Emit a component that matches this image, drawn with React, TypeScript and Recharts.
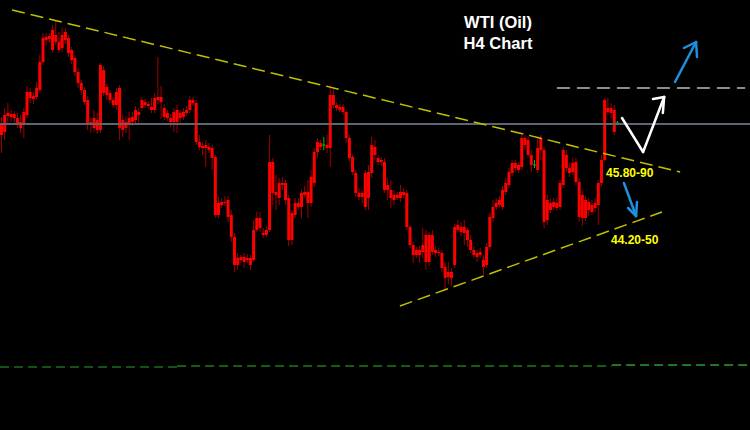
import React from "react";
import { ComposedChart, Bar, XAxis, YAxis, ReferenceLine } from "recharts";

// candle values (level = height above the bottom edge)
const opens = [
  295, 298, 317, 316, 316, 312, 302, 305, 315, 338, 331, 333, 340, 368, 390, 391, 400, 395, 380, 382, 398, 392, 380, 372, 358, 347, 340, 330, 308, 312, 300, 300, 360, 343, 337, 325, 325, 342,
  300, 308, 305, 308, 310, 315, 322, 328, 326, 320, 320, 333, 333, 322, 317, 308, 308, 320, 312, 313, 317, 320, 330, 327, 288, 284, 285, 283, 282, 273, 215, 228, 228, 230, 215, 193, 165, 173,
  173, 172, 165, 170, 200, 212, 195, 195, 200, 268, 235, 232, 247, 247, 232, 190, 215, 223, 223, 238, 227, 227, 247, 278, 287, 285, 282, 282, 335, 325, 320, 323, 318, 292, 273, 257, 237, 233, 223,
  232, 257, 283, 272, 270, 268, 245, 240, 230, 232, 232, 238, 237, 203, 185, 175, 175, 178, 195, 168, 195, 180, 178, 177, 163, 153, 152, 165, 205, 198, 203, 200, 190, 180, 173, 178, 163, 165,
  183, 212, 223, 225, 223, 238, 245, 257, 267, 260, 263, 292, 290, 275, 265, 260, 292, 280, 210, 227, 223, 222, 223, 245, 275, 262, 258, 268, 248, 212, 230, 228, 218, 222, 225, 247, 270, 322, 322, 320, 307,
];
const closes = [
  305, 315, 314, 313, 312, 305, 308, 318, 338, 332, 334, 342, 368, 392, 393, 394, 380, 388, 388, 395, 390, 377, 370, 358, 347, 340, 328, 305, 305, 302, 310, 365, 337, 335, 330, 330, 338, 302,
  310, 302, 312, 313, 320, 318, 330, 325, 324, 323, 332, 330, 328, 313, 312, 312, 318, 308, 317, 318, 320, 330, 327, 288, 283, 282, 282, 280, 272, 215, 227, 225, 227, 213, 193, 165, 172, 170,
  168, 170, 172, 200, 212, 202, 197, 200, 268, 237, 238, 247, 245, 230, 190, 217, 227, 227, 237, 235, 238, 253, 278, 288, 283, 285, 285, 335, 325, 322, 323, 318, 292, 272, 258, 237, 233, 237, 257,
  258, 285, 275, 268, 268, 240, 240, 232, 235, 235, 238, 235, 203, 185, 175, 180, 180, 185, 168, 195, 178, 177, 177, 162, 152, 158, 158, 203, 200, 203, 197, 190, 180, 175, 177, 175, 170, 183,
  213, 223, 227, 230, 240, 247, 258, 267, 262, 265, 292, 285, 275, 265, 265, 282, 280, 208, 230, 220, 228, 227, 247, 280, 262, 257, 267, 248, 213, 235, 212, 220, 225, 227, 247, 270, 330, 318, 317, 298, 307,
];
const highs = [
  313, 322, 327, 320, 319, 317, 315, 322, 344, 342, 338, 348, 375, 397, 397, 397, 405, 410, 398, 402, 402, 395, 383, 375, 362, 350, 343, 334, 312, 320, 317, 367, 364, 346, 340, 333, 342, 345,
  315, 314, 318, 318, 324, 322, 333, 331, 329, 332, 337, 373, 344, 326, 320, 316, 322, 325, 320, 322, 324, 334, 333, 330, 295, 288, 290, 287, 285, 275, 233, 232, 234, 234, 220, 197, 177, 175,
  177, 176, 175, 210, 218, 218, 202, 204, 295, 272, 255, 252, 253, 250, 235, 220, 232, 232, 240, 244, 250, 260, 282, 292, 290, 293, 295, 345, 342, 328, 326, 326, 320, 295, 275, 260, 242, 240, 260,
  265, 293, 290, 275, 273, 272, 252, 250, 240, 238, 245, 242, 240, 205, 188, 183, 184, 202, 200, 198, 200, 184, 182, 180, 168, 168, 162, 206, 210, 208, 210, 202, 195, 184, 180, 182, 175, 187,
  217, 230, 232, 234, 244, 252, 262, 270, 270, 268, 295, 295, 294, 280, 270, 293, 295, 283, 235, 232, 232, 232, 250, 283, 280, 267, 272, 272, 252, 240, 234, 232, 230, 232, 250, 275, 332, 332, 327, 325, 309,
];
const lows = [
  277, 290, 305, 308, 305, 302, 297, 292, 312, 327, 326, 330, 337, 365, 385, 387, 377, 385, 377, 378, 386, 373, 366, 354, 342, 335, 325, 300, 297, 298, 296, 297, 334, 330, 327, 322, 320, 290,
  293, 297, 290, 304, 307, 305, 319, 322, 321, 317, 317, 326, 311, 310, 309, 303, 298, 297, 307, 310, 314, 317, 324, 285, 280, 275, 263, 277, 260, 212, 212, 222, 224, 208, 188, 158, 160, 167,
  162, 167, 160, 168, 198, 198, 192, 193, 198, 225, 220, 225, 240, 225, 184, 185, 212, 220, 212, 232, 212, 223, 243, 272, 280, 280, 277, 263, 322, 319, 318, 315, 287, 268, 255, 233, 230, 227, 220,
  220, 252, 270, 265, 264, 237, 230, 222, 225, 230, 228, 232, 200, 182, 167, 172, 167, 172, 160, 164, 175, 173, 174, 158, 140, 146, 144, 162, 198, 194, 185, 183, 177, 172, 168, 172, 155, 162,
  180, 208, 220, 222, 220, 235, 242, 254, 258, 257, 260, 280, 272, 258, 262, 257, 270, 202, 205, 217, 220, 219, 220, 242, 258, 253, 255, 245, 208, 204, 209, 214, 215, 218, 205, 244, 268, 315, 312, 295, 305,
];

// annotation lines in the same units (x = candle index, y = level)
const upperTrend = [{ x: 3.3, y: 420 }, { x: 212.6, y: 258 }];
const lowerTrend = [{ x: 124.8, y: 124 }, { x: 206.9, y: 218 }];
const resistance = [{ x: 174, y: 342 }, { x: 233, y: 342 }];
const pivotLevel = 306;
const baseLine = [
  { from: -0.5, to: 55, y: 63, color: "#1c6b1c" },
  { from: 55, to: 191.3, y: 64, color: "#1f7a1f" },
  { from: 191.3, to: 234.5, y: 65, color: "#2e9c2e" },
];
const whiteArrow = [
  [{ x: 194.4, y: 312 }, { x: 201, y: 278 }, { x: 207.6, y: 333 }],
  [{ x: 204.1, y: 331 }, { x: 207.6, y: 333 }, { x: 207.2, y: 317 }],
];
const blueArrows = [
  [{ x: 211, y: 348 }, { x: 217.6, y: 388 }],
  [{ x: 213.8, y: 382 }, { x: 217.6, y: 388 }, { x: 217.9, y: 373 }],
  [{ x: 195, y: 247 }, { x: 198.8, y: 214 }],
  [{ x: 196.3, y: 222 }, { x: 198.8, y: 214 }, { x: 199.1, y: 228 }],
];

const data = opens.map((o, i) => ({
  i,
  o,
  c: closes[i],
  h: highs[i],
  l: lows[i],
  range: [lows[i], highs[i]],
}));

const Candle = (props: any) => {
  const { x, y, width, height, payload } = props;
  const cx = x + width / 2;
  const top = Math.min(y, y + height);
  const h = Math.abs(height);
  const span = payload.h - payload.l;
  const k = span > 0 ? h / span : 0;
  const yOf = (v: number) => top + (payload.h - v) * k;
  const bTop = yOf(Math.max(payload.o, payload.c));
  const bBot = yOf(Math.min(payload.o, payload.c));
  if (payload.o === payload.c) {
    return (
      <g>
        <line x1={cx} x2={cx} y1={top} y2={top + h} stroke="#00c000" strokeWidth={1} />
        <line x1={cx - 1.5} x2={cx + 1.5} y1={bTop} y2={bTop} stroke="#00c000" strokeWidth={1} />
      </g>
    );
  }
  return (
    <g>
      <line x1={cx} x2={cx} y1={top} y2={top + h} stroke="#a00000" strokeWidth={1} />
      <rect x={cx - 1.5} y={bTop} width={3} height={Math.max(1, bBot - bTop)} fill="#ff0000" />
    </g>
  );
};

const polySegments = (pts: { x: number; y: number }[][]) =>
  pts.flatMap((line) => line.slice(1).map((p, j) => [line[j], p]));

export default function App() {
  return (
    <div style={{ position: "absolute", left: 0, top: 0, width: 750, height: 430, background: "#000", overflow: "hidden" }}>
      <ComposedChart width={750} height={430} data={data} margin={{ top: 0, right: 0, bottom: 0, left: 0 }}>
        <XAxis hide type="number" dataKey="i" domain={[-0.5, 234.5]} allowDataOverflow />
        <YAxis hide type="number" domain={[0, 430]} allowDataOverflow />
        <ReferenceLine y={pivotLevel} stroke="#5d6572" strokeWidth={2} />
        {baseLine.map((b, n) => (
          <ReferenceLine
            key={`g${n}`}
            segment={[{ x: b.from, y: b.y }, { x: b.to, y: b.y }]}
            stroke={b.color}
            strokeWidth={1.5}
            strokeDasharray="9 5"
            ifOverflow="visible"
          />
        ))}
        <Bar dataKey="range" barSize={3} shape={Candle} isAnimationActive={false} />
        <ReferenceLine segment={upperTrend} stroke="#c0c000" strokeWidth={1.5} strokeDasharray="13 6" ifOverflow="visible" />
        <ReferenceLine segment={lowerTrend} stroke="#c0c000" strokeWidth={1.5} strokeDasharray="13 6" ifOverflow="visible" />
        <ReferenceLine segment={resistance} stroke="#8c8c8c" strokeWidth={2} strokeDasharray="13 7" ifOverflow="visible" />
        {polySegments(whiteArrow).map((s, n) => (
          <ReferenceLine key={`w${n}`} segment={s} stroke="#ffffff" strokeWidth={2.5} strokeLinecap="round" ifOverflow="visible" />
        ))}
        {polySegments(blueArrows).map((s, n) => (
          <ReferenceLine key={`b${n}`} segment={s} stroke="#1e90e0" strokeWidth={2.5} strokeLinecap="round" ifOverflow="visible" />
        ))}
      </ComposedChart>
      <div
        style={{
          position: "absolute",
          left: 438,
          top: 12,
          width: 120,
          textAlign: "center",
          color: "#fff",
          fontFamily: "'Liberation Sans', Arial, sans-serif",
          fontWeight: "bold",
          fontSize: 16.5,
          lineHeight: "21px",
        }}
      >
        <div>WTI (Oil)</div>
        <div>H4 Chart</div>
      </div>
      <div style={labelStyle(606, 166)}>45.80-90</div>
      <div style={labelStyle(611, 233)}>44.20-50</div>
    </div>
  );
}

function labelStyle(left: number, top: number): React.CSSProperties {
  return {
    position: "absolute",
    left,
    top,
    color: "#ffff00",
    fontFamily: "'Liberation Sans', Arial, sans-serif",
    fontWeight: "bold",
    fontSize: 12,
    lineHeight: "14px",
    whiteSpace: "nowrap",
  };
}
